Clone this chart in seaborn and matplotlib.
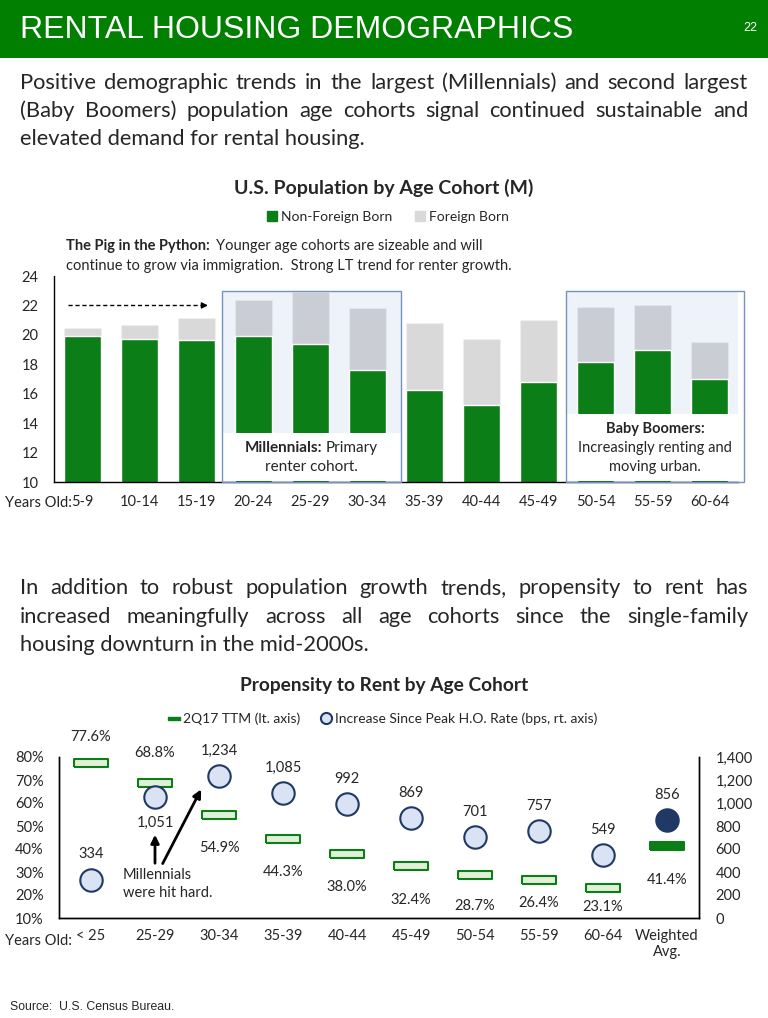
import numpy as np
import pandas as pd
import matplotlib
matplotlib.use('Agg')
import matplotlib.pyplot as plt
from matplotlib.patches import Rectangle, Patch
from matplotlib.lines import Line2D
import seaborn as sns

# U.S. population by age cohort (M)
age_groups = ['5-9', '10-14', '15-19', '20-24', '25-29', '30-34',
              '35-39', '40-44', '45-49', '50-54', '55-59', '60-64']
non_foreign = [19.9, 19.7, 19.65, 19.9, 19.35, 17.6,
               16.25, 15.2, 16.8, 18.15, 18.95, 17.0]
foreign = [0.55, 0.95, 1.5, 2.5, 3.55, 4.2,
           4.55, 4.5, 4.2, 3.75, 3.1, 2.5]

# Propensity to rent by age cohort
rent_groups = ['< 25', '25-29', '30-34', '35-39', '40-44', '45-49',
               '50-54', '55-59', '60-64', 'Weighted\nAvg.']
rent_share = [77.6, 68.8, 54.9, 44.3, 38.0, 32.4, 28.7, 26.4, 23.1, 41.4]
bps_increase = [334, 1051, 1234, 1085, 992, 869, 701, 757, 549, 856]

# label offsets in px (negative = above the mark)
share_offsets = [-26, -30, 33, 33, 33, 34, 31, 23, 19, 34]
bps_offsets = [-26, 26, -25, -25, -25, -25, -25, -25, -25, -25]

BANNER = '#017F01'
GREEN = '#0B7E17'
NAVY = '#1F3864'
CIRCLE_FILL = '#DAE3F3'
RECT_FILL = '#E2F0D9'
BOX_FILL = '#EEF3FA'
BOX_EDGE = '#7393C4'

sns.set_style('white')
plt.rcParams['font.family'] = ['Lato', 'DejaVu Sans']

W, H = 768, 1018
fig = plt.figure(figsize=(W / 100, H / 100), dpi=100)
renderer = fig.canvas.get_renderer()


def fp(x, y):
    return x / W, 1 - y / H


def width_of(t):
    return t.get_window_extent(renderer).width


def paragraph(lines, baselines, x0, x1, size):
    for i, (line, yb) in enumerate(zip(lines, baselines)):
        if i == len(lines) - 1:
            fig.text(*fp(x0, yb), line, fontsize=size, va='baseline')
            continue
        words = line.split()
        texts = [fig.text(0, 0, w, fontsize=size, va='baseline') for w in words]
        widths = [width_of(t) for t in texts]
        gap = (x1 - x0 - sum(widths)) / (len(words) - 1)
        x = x0
        for t, w in zip(texts, widths):
            t.set_position(fp(x, yb))
            x += w + gap


def rich_line(parts, x, y, size, ha='left', gap=0.35):
    texts = [fig.text(0, 0, s, fontsize=size, weight=wt, va='center')
             for s, wt in parts]
    widths = [width_of(t) for t in texts]
    gap = size * gap
    total = sum(widths) + gap * (len(texts) - 1)
    start = x - total / 2 if ha == 'center' else x
    for t, w in zip(texts, widths):
        t.set_position(fp(start, y))
        start += w + gap


# ---- banner
fig.add_artist(Rectangle((0, 1 - 58 / H), 1, 58 / H, transform=fig.transFigure,
                         facecolor=BANNER, edgecolor='none'))
fig.text(*fp(20, 30), 'RENTAL HOUSING DEMOGRAPHICS', color='white',
         fontsize=23, family='Liberation Sans', va='center')
fig.text(*fp(757, 28), '22', color='white', fontsize=9,
         family='Liberation Sans', va='center', ha='right')

# ---- paragraphs (justified)
para1 = ['Positive demographic trends in the largest (Millennials) and second largest',
         '(Baby Boomers) population age cohorts signal continued sustainable and',
         'elevated demand for rental housing.']
para2 = ['In addition to robust population growth trends, propensity to rent has',
         'increased meaningfully across all age cohorts since the single-family',
         'housing downturn in the mid-2000s.']
probe = fig.text(0, 0, para1[0], fontsize=14)
body_size = 14 * 712 / width_of(probe)
probe.remove()
paragraph(para1, [89, 117, 145], 20, 748, body_size)
paragraph(para2, [594, 623, 651], 20, 748, body_size)

# ---- top chart
pop = pd.DataFrame({'age': age_groups, 'non_foreign': non_foreign,
                    'foreign': foreign})
pop['total'] = pop['non_foreign'] + pop['foreign']

ax1 = fig.add_axes([54 / W, 1 - 482 / H, 684 / W, 206 / H])
for x0, x1 in [(2.45, 5.58), (8.48, 11.6)]:
    ax1.add_patch(Rectangle((x0, 10), x1 - x0, 13, facecolor=BOX_FILL,
                            edgecolor='none', zorder=0.5))
sns.barplot(data=pop, x='age', y='total', color='black', alpha=0.15,
            saturation=1, width=0.66, errorbar=None, ax=ax1)
sns.barplot(data=pop, x='age', y='non_foreign', color=GREEN,
            saturation=1, width=0.66, errorbar=None, ax=ax1)
for x0, x1, ytop in [(2.45, 5.58, 13.3), (8.48, 11.6, 14.6)]:
    ax1.add_patch(Rectangle((x0, 10.1), x1 - x0, ytop - 10.1, facecolor='white',
                            edgecolor='none', zorder=3, clip_on=False))
    ax1.add_patch(Rectangle((x0, 10), x1 - x0, 13, facecolor='none',
                            edgecolor=BOX_EDGE, lw=1, zorder=5, clip_on=False))
ax1.set_ylim(10, 24)
ax1.set_xlim(-0.5, 11.5)
ax1.set_yticks(range(10, 25, 2))
ax1.set_xlabel('')
ax1.set_ylabel('')
ax1.tick_params(length=0, labelsize=10.5)
ax1.tick_params(axis='y', pad=11)
ax1.tick_params(axis='x', pad=9)
for s in ['top', 'right']:
    ax1.spines[s].set_visible(False)
for s in ['left', 'bottom']:
    ax1.spines[s].set_color('black')
    ax1.spines[s].set_linewidth(1)

ax1.plot([-0.26, 2.12], [22, 22], ls=(0, (3, 2)), color='black', lw=1)
ax1.annotate('', xy=(2.25, 22), xytext=(2.05, 22),
             arrowprops=dict(arrowstyle='-|>', color='black', lw=1,
                             mutation_scale=9))

fig.text(*fp(384, 188), 'U.S. Population by Age Cohort (M)', fontsize=14,
         weight='bold', ha='center', va='center')
fig.legend(handles=[Patch(color=GREEN, label='Non-Foreign Born'),
                    Patch(color='#D9D9D9', label='Foreign Born')],
           loc='center', bbox_to_anchor=fp(388, 217), ncol=2, frameon=False,
           fontsize=10, handlelength=0.7, handleheight=0.7,
           handletextpad=0.3, columnspacing=1.6)
rich_line([('The Pig in the Python:', 'bold'),
           ('Younger age cohorts are sizeable and will', 'normal')],
          66, 246, 10.5, gap=0.55)
fig.text(*fp(66, 266), 'continue to grow via immigration.  Strong LT trend for renter growth.',
         fontsize=10.5, va='center')
rich_line([('Millennials:', 'bold'), ('Primary', 'normal')], 311, 448, 11,
          ha='center')
fig.text(*fp(311, 467), 'renter cohort.', fontsize=11, ha='center', va='center')
fig.text(*fp(655, 429), 'Baby Boomers:', fontsize=10.5, weight='bold',
         ha='center', va='center')
fig.text(*fp(655, 448), 'Increasingly renting and', fontsize=10.5,
         ha='center', va='center')
fig.text(*fp(655, 467), 'moving urban.', fontsize=10.5, ha='center', va='center')
fig.text(*fp(5, 503), 'Years Old:', fontsize=10.5, va='center')

# ---- bottom chart
rent = pd.DataFrame({'cohort': rent_groups, 'share': rent_share,
                     'bps': bps_increase})

ax = fig.add_axes([59 / W, 1 - 918 / H, 640 / W, 161 / H])
ax2 = ax.twinx()
rect_marker = np.array([(-1, -0.24), (1, -0.24), (1, 0.24), (-1, 0.24),
                        (-1, -0.24)])
sns.scatterplot(data=rent.iloc[:-1], x='cohort', y='share', marker=rect_marker,
                s=600, color=RECT_FILL, edgecolor=GREEN, linewidth=1.5,
                ax=ax, zorder=3)
sns.scatterplot(data=rent.iloc[-1:], x='cohort', y='share', marker=rect_marker,
                s=600, color=GREEN, edgecolor=GREEN, linewidth=1.5,
                ax=ax, zorder=3)
sns.scatterplot(data=rent.iloc[:-1], x='cohort', y='bps', marker='o',
                s=260, color=CIRCLE_FILL, edgecolor=NAVY, linewidth=1.5,
                ax=ax2, zorder=3)
sns.scatterplot(data=rent.iloc[-1:], x='cohort', y='bps', marker='o',
                s=260, color=NAVY, edgecolor=NAVY, linewidth=1.5,
                ax=ax2, zorder=3)

for i, (v, off) in enumerate(zip(rent_share, share_offsets)):
    ax.annotate(f'{v:.1f}%', xy=(i, v), xytext=(0, -off * 0.72),
                textcoords='offset points', ha='center', va='center',
                fontsize=10.5)
for i, (v, off) in enumerate(zip(bps_increase, bps_offsets)):
    ax2.annotate(f'{v:,}', xy=(i, v), xytext=(0, -off * 0.72),
                 textcoords='offset points', ha='center', va='center',
                 fontsize=10.5)

ax.set_xlim(-0.5, 9.5)
ax.set_ylim(10, 80)
ax2.set_ylim(0, 1400)
ax.set_yticks(range(10, 81, 10), [f'{v}%' for v in range(10, 81, 10)])
ax2.set_yticks(range(0, 1401, 200), [f'{v:,}' for v in range(0, 1401, 200)])
ax.set_xticks(range(len(rent_groups)), rent_groups)
for a in (ax, ax2):
    a.set_xlabel('')
    a.set_ylabel('')
    a.tick_params(length=0, labelsize=10.5)
    a.spines['top'].set_visible(False)
    for s in ['left', 'right', 'bottom']:
        a.spines[s].set_color('black')
        a.spines[s].set_linewidth(1)
ax.tick_params(axis='y', pad=11)
ax2.tick_params(axis='y', pad=12)
ax.tick_params(axis='x', pad=8)

ax.text(0.5, 31.7, 'Millennials\nwere hit hard.', fontsize=10.5, ha='left',
        va='top', linespacing=1.35)
arrow = dict(arrowstyle='-|>', color='black', lw=2, mutation_scale=12)
ax.annotate('', xy=(1.0, 47.4), xytext=(1.0, 32.6), arrowprops=arrow)
ax.annotate('', xy=(1.74, 67.0), xytext=(1.10, 32.6), arrowprops=arrow)

fig.text(*fp(384, 686), 'Propensity to Rent by Age Cohort', fontsize=13.8,
         weight='bold', ha='center', va='center')
fig.legend(handles=[Line2D([], [], marker=rect_marker, ls='none', markersize=9,
                           color=GREEN, label='2Q17 TTM (lt. axis)'),
                    Line2D([], [], marker='o', ls='none', markersize=8,
                           markerfacecolor=CIRCLE_FILL, markeredgecolor=NAVY,
                           markeredgewidth=1.5,
                           label='Increase Since Peak H.O. Rate (bps, rt. axis)')],
           loc='center', bbox_to_anchor=fp(383, 719), ncol=2, frameon=False,
           fontsize=10, handlelength=0.8, handletextpad=0.3, columnspacing=1.4)
fig.text(*fp(5, 941), 'Years Old:', fontsize=10.5, va='center')

fig.text(*fp(10, 1007), 'Source:  U.S. Census Bureau.', fontsize=8.8,
         family='Liberation Sans', va='center')

fig.savefig('out.png', dpi=100)
